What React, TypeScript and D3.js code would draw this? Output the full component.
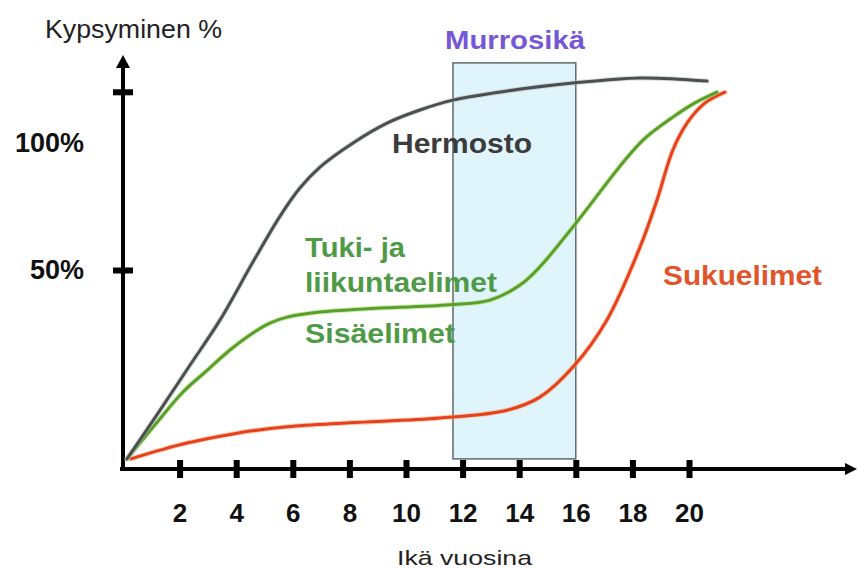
import { useEffect, useRef } from 'react';
import * as d3 from 'd3';

// [ikä vuosina, kypsyminen %]
const hermosto: [number, number][] = [
  [0.14, 2.3], [1.31, 14.6], [2.37, 26.0], [3.43, 37.4], [4.59, 52.0], [5.55, 63.6],
  [6.25, 70.7], [6.96, 76.0], [8.13, 82.1], [9.33, 87.1], [10.49, 90.4], [11.66, 92.9],
  [13.57, 95.2], [15.9, 97.2], [18.27, 98.5], [20.64, 97.7],
];
const tukiJaSisaelimet: [number, number][] = [
  [0.14, 2.3], [1.13, 10.9], [2.12, 19.2], [2.9, 24.2], [3.78, 29.8], [4.59, 34.1],
  [5.19, 36.6], [5.8, 38.1], [6.96, 39.4], [8.62, 40.2], [11.55, 41.2], [12.97, 42.4],
  [14.03, 46.2], [14.73, 50.8], [15.9, 60.9], [17.1, 72.0], [17.74, 77.8], [18.45, 83.3],
  [19.43, 88.6], [20.21, 92.2], [20.99, 94.9],
];
const sukuelimet: [number, number][] = [
  [0.28, 2.3], [1.31, 4.5], [2.26, 6.3], [4.03, 8.8], [5.8, 10.4], [8.02, 11.4],
  [11.2, 12.6], [13.57, 14.6], [14.73, 17.9], [15.9, 25.5], [17.1, 37.4], [18.27, 55.8],
  [18.87, 67.7], [19.43, 80.3], [19.96, 87.4], [20.57, 92.2], [21.27, 94.9],
];

const murrosika = { from: 11.66, to: 16, low: 2.3, high: 102.3 };

const xTicks = [2, 4, 6, 8, 10, 12, 14, 16, 18, 20];
const yTicks = [50, 95];
const yLabels = ['50%', '100%'];
const yLabelValues = [50, 82];

const width = 858;
const height = 568;
const font = '"Liberation Sans", Arial, sans-serif';

function App() {
  const svgRef = useRef<SVGSVGElement | null>(null);

  useEffect(() => {
    const svg = d3.select(svgRef.current);
    svg.selectAll('*').remove();

    const x = d3.scaleLinear().domain([0, 20]).range([123, 689]);
    const y = d3.scaleLinear().domain([0, 100]).range([468, 72]);

    // puberty band
    svg
      .append('rect')
      .attr('x', x(murrosika.from))
      .attr('y', y(murrosika.high))
      .attr('width', x(murrosika.to) - x(murrosika.from))
      .attr('height', y(murrosika.low) - y(murrosika.high))
      .attr('fill', '#dff5fb')
      .attr('stroke', '#5f6a6a')
      .attr('stroke-width', 1.5);

    // axes lines + arrows
    const xEnd = 857;
    const yEnd = 55;
    svg
      .append('line')
      .attr('x1', x(0) - 3)
      .attr('x2', xEnd - 10)
      .attr('y1', y(0) + 1)
      .attr('y2', y(0) + 1)
      .attr('stroke', '#000')
      .attr('stroke-width', 4);
    svg
      .append('path')
      .attr('d', `M${xEnd},${y(0) + 1}L${xEnd - 12},${y(0) - 5}L${xEnd - 12},${y(0) + 7}Z`)
      .attr('fill', '#000');
    svg
      .append('line')
      .attr('x1', x(0))
      .attr('x2', x(0))
      .attr('y1', y(0) + 3)
      .attr('y2', yEnd + 10)
      .attr('stroke', '#000')
      .attr('stroke-width', 4);
    svg
      .append('path')
      .attr('d', `M${x(0)},${yEnd}L${x(0) - 7},${yEnd + 13}L${x(0) + 7},${yEnd + 13}Z`)
      .attr('fill', '#000');

    const gx = svg
      .append('g')
      .attr('transform', `translate(0,${y(0) - 8})`)
      .call(d3.axisBottom(x).tickValues(xTicks).tickSize(18).tickPadding(26));
    gx.select('.domain').remove();
    gx.selectAll('.tick line').attr('stroke', '#000').attr('stroke-width', 6);
    gx.selectAll('.tick text')
      .attr('fill', '#111')
      .style('font-family', font)
      .style('font-weight', 'bold')
      .style('font-size', '26px');

    const gy = svg
      .append('g')
      .attr('transform', `translate(${x(0) + 10},0)`)
      .call(d3.axisLeft(y).tickValues(yTicks).tickSize(20).tickFormat(() => ''));
    gy.select('.domain').remove();
    gy.selectAll('.tick line').attr('stroke', '#000').attr('stroke-width', 6);

    svg
      .selectAll('.ylab')
      .data(yLabels)
      .join('text')
      .attr('class', 'ylab')
      .attr('x', 84)
      .attr('y', (_, i) => y(yLabelValues[i]) + 9)
      .attr('text-anchor', 'end')
      .attr('fill', '#111')
      .style('font-family', font)
      .style('font-weight', 'bold')
      .style('font-size', '27px')
      .text((d) => d);

    // curves
    const line = d3
      .line<[number, number]>()
      .x((d) => x(d[0]))
      .y((d) => y(d[1]))
      .curve(d3.curveCatmullRom.alpha(0.5));

    const series = [
      { data: sukuelimet, color: '#e6401d', glow: '#f7a06a' },
      { data: tukiJaSisaelimet, color: '#5a9f2c', glow: '#a5dc6a' },
      { data: hermosto, color: '#4a4f4f', glow: '#b9bcbc' },
    ];
    series.forEach((s) => {
      svg
        .append('path')
        .attr('d', line(s.data))
        .attr('fill', 'none')
        .attr('stroke', s.glow)
        .attr('stroke-opacity', 0.5)
        .attr('stroke-width', 5)
        .attr('stroke-linecap', 'round');
      svg
        .append('path')
        .attr('d', line(s.data))
        .attr('fill', 'none')
        .attr('stroke', s.color)
        .attr('stroke-width', 3)
        .attr('stroke-linecap', 'round')
        .attr('stroke-linejoin', 'round');
    });

    // texts
    const labels = [
      { t: 'Kypsyminen %', x: 45, y: 38, size: 26, w: 177, bold: false, c: '#222' },
      { t: 'Ikä vuosina', x: 397, y: 565, size: 21, w: 135, bold: false, c: '#222' },
      { t: 'Murrosikä', x: 445, y: 49, size: 25, w: 140, bold: true, c: '#7657d6' },
      { t: 'Hermosto', x: 392, y: 153, size: 28, w: 140, bold: true, c: '#3b3b3b' },
      { t: 'Tuki- ja', x: 305, y: 257, size: 28, w: 100, bold: true, c: '#4f9a46' },
      { t: 'liikuntaelimet', x: 305, y: 292, size: 28, w: 192, bold: true, c: '#4f9a46' },
      { t: 'Sisäelimet', x: 305, y: 343, size: 28, w: 150, bold: true, c: '#4f9a46' },
      { t: 'Sukuelimet', x: 663, y: 285, size: 28, w: 159, bold: true, c: '#e2552c' },
    ];
    svg
      .selectAll('.lab')
      .data(labels)
      .join('text')
      .attr('class', 'lab')
      .attr('x', (d) => d.x)
      .attr('y', (d) => d.y)
      .attr('textLength', (d) => d.w)
      .attr('lengthAdjust', 'spacingAndGlyphs')
      .attr('fill', (d) => d.c)
      .style('font-family', font)
      .style('font-weight', (d) => (d.bold ? 'bold' : 'normal'))
      .style('font-size', (d) => `${d.size}px`)
      .text((d) => d.t);
  }, []);

  return (
    <svg
      ref={svgRef}
      width={width}
      height={height}
      style={{ position: 'absolute', left: 0, top: 0, background: '#fff' }}
    />
  );
}

export default App;
